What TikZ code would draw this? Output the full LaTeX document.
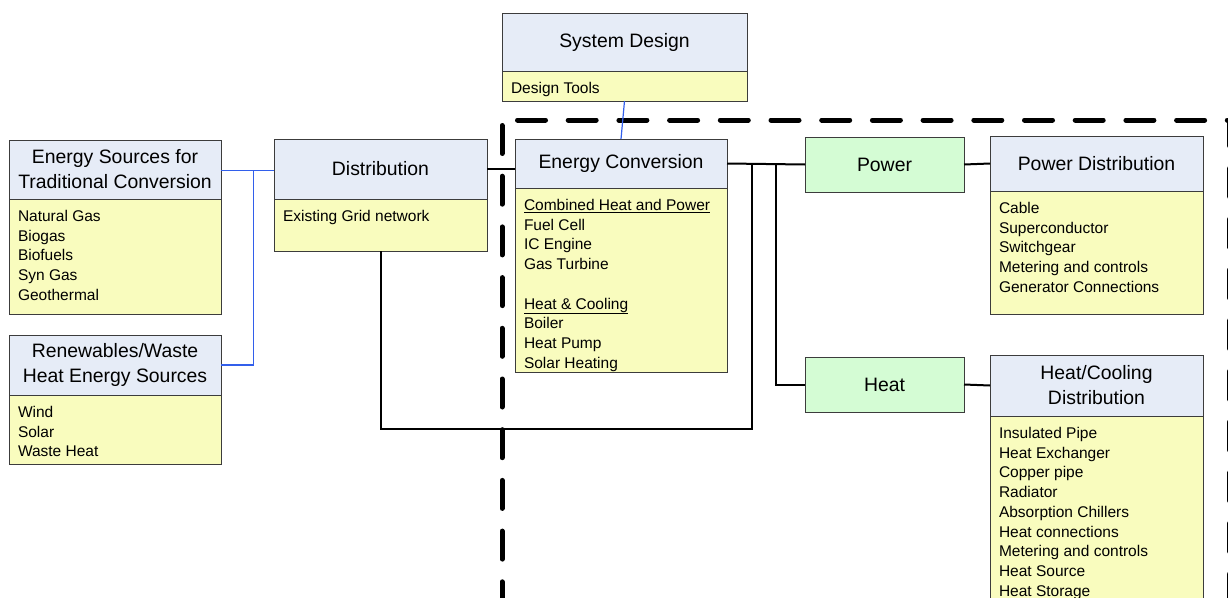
\documentclass[tikz,border=0pt]{standalone}
\usepackage{fontspec}
\setmainfont{Liberation Sans}
\usepackage{tikz}
\definecolor{headfill}{RGB}{230,236,247}
\definecolor{listfill}{RGB}{249,252,190}
\definecolor{flowfill}{RGB}{212,252,212}
\definecolor{edge}{RGB}{60,60,60}
\definecolor{feed}{RGB}{50,95,235}
\newcommand{\headfont}{\fontsize{19.4}{25}\selectfont}
\newcommand{\listfont}{\fontsize{15.5}{19.7}\selectfont}
\newcommand{\itemlist}[3]{\parbox[c][#1pt][t]{#2pt}{\listfont\raggedright\rule{0pt}{22.5pt}#3}}
\tikzset{
  head/.style={draw=edge,fill=headfill,line width=1pt,outer sep=0pt,inner sep=2pt,align=center,font=\headfont,anchor=north west},
  flow/.style={head,fill=flowfill},
  list/.style={draw=edge,fill=listfill,line width=1pt,outer sep=0pt,inner xsep=9pt,inner ysep=0pt,anchor=north},
  wire/.style={line width=2pt,black},
  feedline/.style={line width=1.2pt,feed},
  fence/.style={line width=5pt,line cap=round,dash pattern=on 28pt off 22.7pt}
}
\begin{document}
\begin{tikzpicture}[x=1pt,y=-1pt]
       \useasboundingbox(0,0)rectangle(1228,597);
       \clip(0,0)rectangle(1228,597);
       \draw[fence,dash phase=35.2pt](502,120)--(1229.5,120)--(1229.5,620);
       \draw[fence,dash phase=45.2pt](502,120)--(502,620);
       \node[head,minimum width=212pt,minimum height=59pt](es)at(9,140){Energy Sources for\\Traditional Conversion};
       \node[list](esl)at(es.south){\itemlist{115}{194}{Natural Gas\\Biogas\\Biofuels\\Syn Gas\\Geothermal}};
       \node[head,minimum width=212pt,minimum height=60pt](ren)at(9,335){Renewables/Waste\\Heat Energy Sources};
       \node[list](renl)at(ren.south){\itemlist{69}{194}{Wind\\Solar\\Waste Heat}};
       \node[head,minimum width=213pt,minimum height=60pt](dist)at(274,139){Distribution};
       \node[list](distl)at(dist.south){\itemlist{52}{195}{Existing Grid network}};
       \node[head,minimum width=245pt,minimum height=58pt](sd)at(502,13){System Design};
       \node[list](sdl)at(sd.south){\itemlist{30}{227}{Design Tools}};
       \node[head,minimum width=212pt,minimum height=49pt](ec)at(515,139){Energy Conversion};
       \node[list](ecl)at(ec.south){\itemlist{184}{194}{\underline{Combined Heat and Power}\\Fuel Cell\\IC Engine\\Gas Turbine\\[19.7pt]\underline{Heat \& Cooling}\\Boiler\\Heat Pump\\Solar Heating}};
       \node[flow,minimum width=159pt,minimum height=55pt](power)at(805,137){Power};
       \node[head,minimum width=213pt,minimum height=55pt](pd)at(990,136){Power Distribution};
       \node[list](pdl)at(pd.south){\itemlist{123}{195}{Cable\\Superconductor\\Switchgear\\Metering and controls\\Generator Connections}};
       \node[flow,minimum width=159pt,minimum height=55pt](heat)at(805,357){Heat};
       \node[head,minimum width=213pt,minimum height=61pt](hcd)at(990,355){Heat/Cooling\\Distribution};
       \node[list](hcdl)at(hcd.south){\itemlist{200}{195}{Insulated Pipe\\Heat Exchanger\\Copper pipe\\Radiator\\Absorption Chillers\\Heat connections\\Metering and controls\\Heat Source\\Heat Storage}};
       \coordinate(fj)at(253.5,170.5);
       \coordinate(lx)at(752,429);
       \coordinate(hx)at(776,0);
       \draw[feedline](fj-|es.east)--(fj-|dist.west);
       \draw[feedline](ren.east)-|(fj);
       \draw[feedline](sdl.south)--(ec.north);
       \draw[wire](dist.east)--(dist.east-|ec.west);
       \draw[wire](ec.east)--(power.west);
       \draw[wire](distl.south)|-(lx)--(lx|-ec.east);
       \draw[wire](hx|-ec.east)|-(heat.west);
       \draw[wire](power.east)--(pd.west);
       \draw[wire](heat.east)--(hcd.west);
      \end{tikzpicture}
\end{document}
